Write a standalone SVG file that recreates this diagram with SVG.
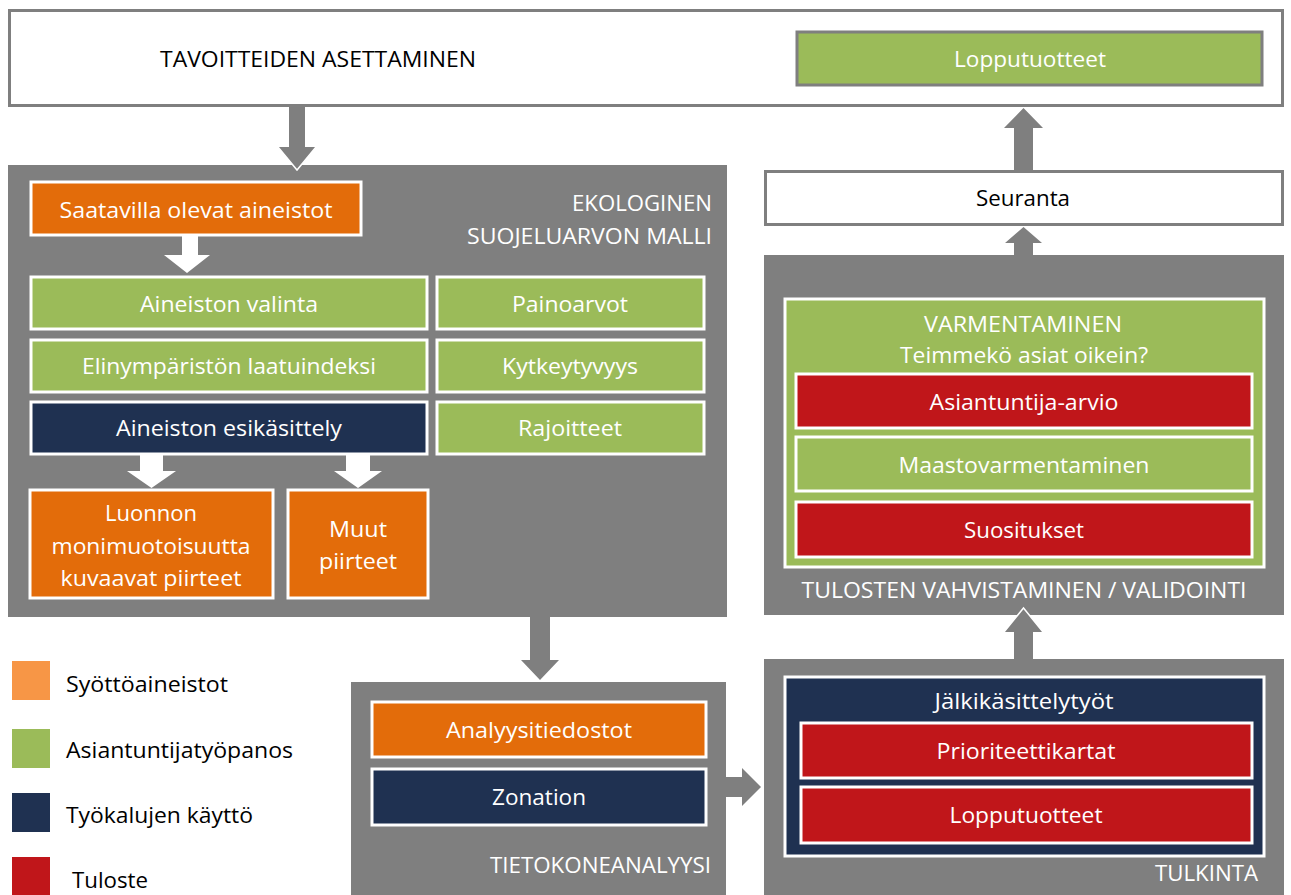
<svg xmlns="http://www.w3.org/2000/svg" width="1291" height="895" viewBox="0 0 1291 895">
<style>
text{font-family:"Open Sans","Noto Sans",sans-serif;font-size:22px;fill:#fff}
.dk{fill:#000}
.c{text-anchor:middle}
.r{text-anchor:end}
.panel{fill:#7f7f7f}
.outer{fill:#fff;stroke:#7f7f7f;stroke-width:3}
.g{fill:#9bbb59;stroke:#fff;stroke-width:3}
.o{fill:#e36c0a;stroke:#fff;stroke-width:3}
.n{fill:#1f3151;stroke:#fff;stroke-width:3}
.rd{fill:#c0161a;stroke:#fff;stroke-width:3}
.ga{fill:#7f7f7f}
.wa{fill:#fff}
.tip{fill:none;stroke:#fff;stroke-width:1.5}
</style>
<rect width="1291" height="895" fill="#fff"/>

<g id="tavoitteet">
<rect class="outer" x="9.5" y="10.5" width="1273" height="95"/>
<text class="dk" x="160" y="67" textLength="316" lengthAdjust="spacingAndGlyphs">TAVOITTEIDEN ASETTAMINEN</text>
</g>
<g id="lopputuotteet-top">
<rect x="797" y="32" width="465" height="53" fill="#9bbb59" stroke="#7f7f7f" stroke-width="3"/>
<text class="c" x="1030" y="67" textLength="152" lengthAdjust="spacingAndGlyphs">Lopputuotteet</text>
</g>

<g id="ekologinen">
<rect class="panel" x="8" y="165" width="719" height="452"/>
<text class="r" x="712" y="211" textLength="140" lengthAdjust="spacingAndGlyphs">EKOLOGINEN</text>
<text class="r" x="712" y="244" textLength="245" lengthAdjust="spacingAndGlyphs">SUOJELUARVON MALLI</text>
</g>
<g id="saatavilla">
<rect class="o" x="31" y="182" width="330" height="53"/>
<text class="c" x="196" y="218" textLength="273" lengthAdjust="spacingAndGlyphs">Saatavilla olevat aineistot</text>
</g>
<g id="valinta">
<rect class="g" x="31" y="277" width="396" height="52"/>
<text class="c" x="229" y="312" textLength="178" lengthAdjust="spacingAndGlyphs">Aineiston valinta</text>
</g>
<g id="painoarvot">
<rect class="g" x="437" y="277" width="267" height="52"/>
<text class="c" x="570" y="312" textLength="116" lengthAdjust="spacingAndGlyphs">Painoarvot</text>
</g>
<g id="laatuindeksi">
<rect class="g" x="31" y="340" width="396" height="52"/>
<text class="c" x="229" y="374" textLength="294" lengthAdjust="spacingAndGlyphs">Elinympäristön laatuindeksi</text>
</g>
<g id="kytkeytyvyys">
<rect class="g" x="437" y="340" width="267" height="52"/>
<text class="c" x="570" y="374" textLength="136" lengthAdjust="spacingAndGlyphs">Kytkeytyvyys</text>
</g>
<g id="esikasittely">
<rect class="n" x="31" y="402" width="396" height="52"/>
<text class="c" x="229" y="436" textLength="226" lengthAdjust="spacingAndGlyphs">Aineiston esikäsittely</text>
</g>
<g id="rajoitteet">
<rect class="g" x="437" y="402" width="267" height="52"/>
<text class="c" x="570" y="436" textLength="104" lengthAdjust="spacingAndGlyphs">Rajoitteet</text>
</g>
<g id="luonnon">
<rect class="o" x="30" y="490" width="243" height="108"/>
<text class="c" x="151" y="521" textLength="92" lengthAdjust="spacingAndGlyphs">Luonnon</text>
<text class="c" x="151" y="554" textLength="199" lengthAdjust="spacingAndGlyphs">monimuotoisuutta</text>
<text class="c" x="151" y="586" textLength="181" lengthAdjust="spacingAndGlyphs">kuvaavat piirteet</text>
</g>
<g id="muut">
<rect class="o" x="288" y="490" width="140" height="108"/>
<text class="c" x="358" y="537" textLength="58" lengthAdjust="spacingAndGlyphs">Muut</text>
<text class="c" x="358" y="569" textLength="78" lengthAdjust="spacingAndGlyphs">piirteet</text>
</g>

<g id="tietokone">
<rect class="panel" x="351" y="682" width="375" height="213"/>
<text class="r" x="711" y="873" textLength="221" lengthAdjust="spacingAndGlyphs">TIETOKONEANALYYSI</text>
</g>
<g id="analyysitiedostot">
<rect class="o" x="372" y="702" width="334" height="55"/>
<text class="c" x="539" y="738" textLength="186" lengthAdjust="spacingAndGlyphs">Analyysitiedostot</text>
</g>
<g id="zonation">
<rect class="n" x="372" y="769" width="334" height="56"/>
<text class="c" x="539" y="805" textLength="94" lengthAdjust="spacingAndGlyphs">Zonation</text>
</g>

<g id="tulkinta">
<rect class="panel" x="764" y="659" width="520" height="236"/>
<text class="r" x="1258" y="881" textLength="103" lengthAdjust="spacingAndGlyphs">TULKINTA</text>
</g>
<g id="jalkikasittely">
<rect class="n" x="785" y="677" width="479" height="179"/>
<text class="c" x="1024" y="709" textLength="179" lengthAdjust="spacingAndGlyphs">Jälkikäsittelytyöt</text>
</g>
<g id="prioriteettikartat">
<rect class="rd" x="801" y="723" width="451" height="55"/>
<text class="c" x="1026" y="759" textLength="179" lengthAdjust="spacingAndGlyphs">Prioriteettikartat</text>
</g>
<g id="lopputuotteet-red">
<rect class="rd" x="801" y="787" width="451" height="56"/>
<text class="c" x="1026" y="823" textLength="153" lengthAdjust="spacingAndGlyphs">Lopputuotteet</text>
</g>

<g id="tulosten">
<rect class="panel" x="764" y="255" width="520" height="360"/>
<text class="c" x="1024" y="598" textLength="445" lengthAdjust="spacingAndGlyphs">TULOSTEN VAHVISTAMINEN / VALIDOINTI</text>
</g>
<g id="varmentaminen">
<rect class="g" x="785" y="299" width="479" height="268"/>
<text class="c" x="1023" y="332" textLength="198" lengthAdjust="spacingAndGlyphs">VARMENTAMINEN</text>
<text class="c" x="1024" y="363" textLength="248" lengthAdjust="spacingAndGlyphs">Teimmekö asiat oikein?</text>
</g>
<g id="asiantuntija-arvio">
<rect class="rd" x="796" y="374" width="456" height="54"/>
<text class="c" x="1024" y="410" textLength="189" lengthAdjust="spacingAndGlyphs">Asiantuntija-arvio</text>
</g>
<g id="maastovarmentaminen">
<rect class="g" x="796" y="437" width="456" height="54"/>
<text class="c" x="1024" y="473" textLength="251" lengthAdjust="spacingAndGlyphs">Maastovarmentaminen</text>
</g>
<g id="suositukset">
<rect class="rd" x="796" y="502" width="456" height="55"/>
<text class="c" x="1024" y="538" textLength="120" lengthAdjust="spacingAndGlyphs">Suositukset</text>
</g>

<g id="seuranta">
<rect class="outer" x="765.5" y="171.5" width="517" height="53"/>
<text class="dk c" x="1023" y="206" textLength="94" lengthAdjust="spacingAndGlyphs">Seuranta</text>
</g>

<g id="connectors">
<polygon class="ga" points="289,107 305,107 305,147 316,147 297,170 278,147 289,147"/>
<polyline class="tip" points="278,147 297,170 316,147"/>
<polygon class="ga" points="530,617 550,617 550,660 559,660 540,680 521,660 530,660"/>
<polygon class="ga" points="726,777 742,777 742,768 761,787 742,806 742,797 726,797"/>
<polygon class="ga" points="1014,659 1033,659 1033,632 1043,632 1023.5,608 1004,632 1014,632"/>
<polyline class="tip" points="1004,632 1023.5,608 1043,632"/>
<polygon class="ga" points="1014,255 1033,255 1033,243 1042,243 1023.5,227 1005,243 1014,243"/>
<polygon class="ga" points="1014,170 1033,170 1033,128 1043,128 1023.5,108 1004,128 1014,128"/>
<polygon class="wa" points="182,236 198,236 198,255 210,255 187,273 164,255 182,255"/>
<polygon class="wa" points="140,455 163,455 163,471 176,471 151.5,488 127,471 140,471"/>
<polygon class="wa" points="346,455 370,455 370,471 382,471 358,488 334,471 346,471"/>
</g>

<g id="legend">
<rect x="12" y="661" width="38" height="39" fill="#f79646"/>
<text class="dk" x="66" y="692" textLength="162" lengthAdjust="spacingAndGlyphs">Syöttöaineistot</text>
<rect x="12" y="729" width="38" height="39" fill="#9bbb59"/>
<text class="dk" x="66" y="758" textLength="227" lengthAdjust="spacingAndGlyphs">Asiantuntijatyöpanos</text>
<rect x="12" y="793" width="38" height="39" fill="#1f3151"/>
<text class="dk" x="66" y="823" textLength="187" lengthAdjust="spacingAndGlyphs">Työkalujen käyttö</text>
<rect x="12" y="857" width="38" height="40" fill="#c0161a"/>
<text class="dk" x="72" y="888" textLength="76" lengthAdjust="spacingAndGlyphs">Tuloste</text>
</g>
</svg>
